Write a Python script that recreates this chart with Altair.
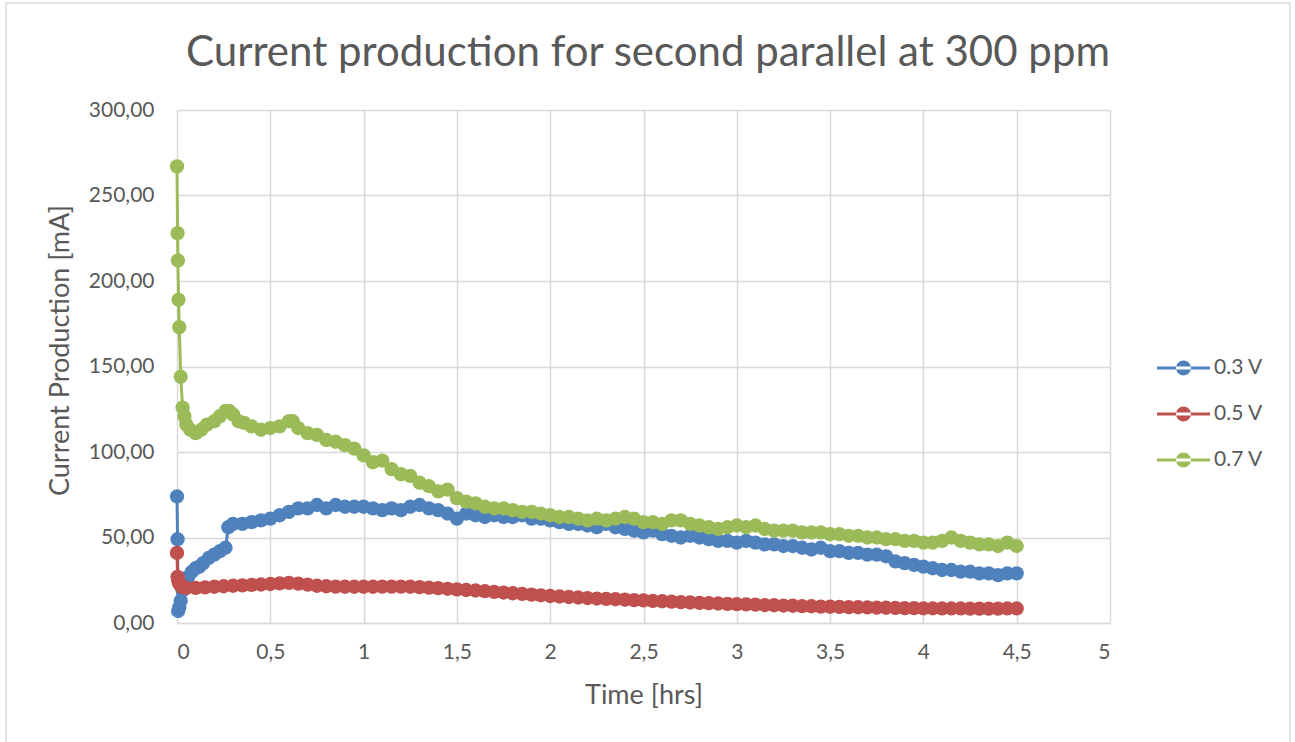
import altair as alt
import pandas as pd

series_names = ["0.3 V", "0.5 V", "0.7 V"]
series_colors = ["#4f81bd", "#c0504d", "#9bbb59"]
chart_title = "Current production for second parallel at 300 ppm"

blue_t = [0, 0.003, 0.006, 0.012, 0.02, 0.03, 0.045, 0.06, 0.08, 0.1, 0.12, 0.14, 0.17, 0.2, 0.23, 0.26,
          0.275, 0.3, 0.35, 0.4, 0.45, 0.5, 0.55, 0.6, 0.65, 0.7, 0.75, 0.8, 0.85, 0.9, 0.95, 1.0,
          1.05, 1.1, 1.15, 1.2, 1.25, 1.3, 1.35, 1.4, 1.45, 1.5, 1.55, 1.6, 1.65, 1.7, 1.75, 1.8,
          1.85, 1.9, 1.95, 2.0, 2.05, 2.1, 2.15, 2.2, 2.25, 2.3, 2.35, 2.4, 2.45, 2.5, 2.55, 2.6,
          2.65, 2.7, 2.75, 2.8, 2.85, 2.9, 2.95, 3.0, 3.05, 3.1, 3.15, 3.2, 3.25, 3.3, 3.35, 3.4,
          3.45, 3.5, 3.55, 3.6, 3.65, 3.7, 3.75, 3.8, 3.85, 3.9, 3.95, 4.0, 4.05, 4.1, 4.15, 4.2,
          4.25, 4.3, 4.35, 4.4, 4.45, 4.5]
blue_v = [74, 49, 7, 9, 13, 19, 24, 27, 30, 32, 33, 35, 38, 40, 42, 44,
          56, 58, 58, 59, 60, 61, 63, 65, 67, 67, 69, 67, 69, 68, 68, 68,
          67, 66, 67, 66, 68, 69, 67, 66, 64, 61, 64, 63, 62, 63, 62, 62,
          63, 61, 61, 60, 59, 58, 58, 57, 56, 58, 56, 55, 54, 53, 54, 52,
          51, 50, 51, 50, 49, 48, 48, 47, 48, 47, 46, 46, 45, 45, 44, 43,
          44, 42, 42, 41, 41, 40, 40, 39, 36, 35, 34, 33, 32, 31, 31, 30,
          30, 29, 29, 28, 29, 29]

red_t = [0, 0.003, 0.006, 0.012, 0.02, 0.03, 0.05, 0.1, 0.15, 0.2, 0.25, 0.3, 0.35, 0.4, 0.45, 0.5,
         0.55, 0.6, 0.65, 0.7, 0.75, 0.8, 0.85, 0.9, 0.95, 1.0, 1.05, 1.1, 1.15, 1.2, 1.25, 1.3,
         1.35, 1.4, 1.45, 1.5, 1.55, 1.6, 1.65, 1.7, 1.75, 1.8, 1.85, 1.9, 1.95, 2.0, 2.05, 2.1,
         2.15, 2.2, 2.25, 2.3, 2.35, 2.4, 2.45, 2.5, 2.55, 2.6, 2.65, 2.7, 2.75, 2.8, 2.85, 2.9,
         2.95, 3.0, 3.05, 3.1, 3.15, 3.2, 3.25, 3.3, 3.35, 3.4, 3.45, 3.5, 3.55, 3.6, 3.65, 3.7,
         3.75, 3.8, 3.85, 3.9, 3.95, 4.0, 4.05, 4.1, 4.15, 4.2, 4.25, 4.3, 4.35, 4.4, 4.45, 4.5]
red_v = [41, 27, 25, 23, 22, 21, 20.5, 20.5, 20.8, 21.2, 21.5, 21.8, 22, 22.3, 22.5, 22.8,
         23.2, 23.5, 23, 22.4, 21.8, 21.5, 21.3, 21.2, 21.2, 21.2, 21.2, 21.3, 21.3, 21.3, 21.2, 21,
         20.7, 20.4, 20, 19.7, 19.3, 19, 18.6, 18.2, 17.8, 17.4, 17, 16.6, 16.2, 15.8, 15.5, 15.2,
         14.9, 14.6, 14.3, 14.1, 13.9, 13.7, 13.4, 13.2, 12.9, 12.7, 12.5, 12.2, 12, 11.8, 11.6, 11.4,
         11.2, 11, 10.9, 10.7, 10.5, 10.4, 10.2, 10.1, 9.9, 9.8, 9.6, 9.5, 9.4, 9.3, 9.2, 9.1,
         9, 8.9, 8.8, 8.7, 8.7, 8.6, 8.6, 8.5, 8.5, 8.5, 8.4, 8.4, 8.4, 8.4, 8.5, 8.5]

green_t = [0, 0.003, 0.005, 0.008, 0.012, 0.02, 0.03, 0.04, 0.05, 0.07, 0.1, 0.13, 0.16, 0.2, 0.23, 0.26,
           0.28, 0.3, 0.33, 0.36, 0.4, 0.45, 0.5, 0.55, 0.6, 0.62, 0.65, 0.7, 0.75, 0.8, 0.85, 0.9,
           0.95, 1.0, 1.05, 1.1, 1.15, 1.2, 1.25, 1.3, 1.35, 1.4, 1.45, 1.5, 1.55, 1.6, 1.65, 1.7,
           1.75, 1.8, 1.85, 1.9, 1.95, 2.0, 2.05, 2.1, 2.15, 2.2, 2.25, 2.3, 2.35, 2.4, 2.45, 2.5,
           2.55, 2.6, 2.65, 2.7, 2.75, 2.8, 2.85, 2.9, 2.95, 3.0, 3.05, 3.1, 3.15, 3.2, 3.25, 3.3,
           3.35, 3.4, 3.45, 3.5, 3.55, 3.6, 3.65, 3.7, 3.75, 3.8, 3.85, 3.9, 3.95, 4.0, 4.05, 4.1,
           4.15, 4.2, 4.25, 4.3, 4.35, 4.4, 4.45, 4.5]
green_v = [267, 228, 212, 189, 173, 144, 126, 121, 116, 113, 111, 113, 116, 118, 121, 124,
           124, 122, 118, 117, 115, 113, 114, 115, 118, 118, 114, 111, 110, 107, 106, 104,
           102, 98, 94, 95, 90, 87, 86, 82, 80, 77, 78, 73, 71, 70, 68, 67,
           67, 66, 65, 65, 64, 63, 62, 62, 61, 60, 61, 60, 61, 62, 61, 59,
           59, 58, 60, 60, 58, 57, 56, 55, 56, 57, 56, 57, 55, 54, 54, 54,
           53, 53, 53, 52, 52, 51, 51, 50, 50, 49, 49, 48, 48, 47, 47, 48,
           50, 48, 47, 46, 46, 45, 47, 45]

rows = []
for name, ts, vs in zip(series_names, [blue_t, red_t, green_t], [blue_v, red_v, green_v]):
    for t, v in zip(ts, vs):
        rows.append({"series": name, "t": t, "v": v})
df = pd.DataFrame(rows)

FONT = "Lato"
TXT = "#595959"

# legend symbol: short line with a dot in the middle
sym = ("M-1,-0.057L1,-0.057L1,0.057L-1,0.057Z"
       "M-0.28,0A0.28,0.28,0,1,0,0.28,0A0.28,0.28,0,1,0,-0.28,0Z")

x_enc = alt.X("t:Q", scale=alt.Scale(domain=[0, 5], nice=False),
              axis=alt.Axis(values=[0, 0.5, 1, 1.5, 2, 2.5, 3, 3.5, 4, 4.5, 5],
                            labelExpr="replace(format(datum.value, '~g'), '.', ',')",
                            title="Time [hrs]", titlePadding=20))
y_enc = alt.Y("v:Q", scale=alt.Scale(domain=[0, 300], nice=False),
              axis=alt.Axis(values=[0, 50, 100, 150, 200, 250, 300],
                            labelExpr="replace(format(datum.value, '.2f'), '.', ',')",
                            title="Current Production [mA]", titlePadding=14, titleY=240))
c_enc = alt.Color("series:N", scale=alt.Scale(domain=series_names, range=series_colors),
                  legend=alt.Legend(title=None, orient="none", legendX=980, legendY=248,
                                    symbolType=sym, symbolSize=2809, symbolStrokeWidth=0,
                                    clipHeight=20, rowPadding=25, labelOffset=4,
                                    labelFontSize=21, labelColor=TXT, labelFont=FONT, padding=0))

base = alt.Chart(df).encode(x=x_enc, y=y_enc, color=c_enc)
layers = []
for name in series_names:
    sub = base.transform_filter(alt.datum.series == name)
    layers.append(sub.mark_line(strokeWidth=3))
    layers.append(sub.mark_point(filled=True, size=205, opacity=1))

one = pd.DataFrame({"label": [chart_title]})
frame = alt.Chart(one).mark_rect(
    fill="transparent", stroke="#d9d9d9", strokeWidth=1.5).encode(
    x=alt.value(-171), x2=alt.value(1113), y=alt.value(-107), y2=alt.value(650))
title_txt = alt.Chart(one).mark_text(
    font=FONT, fontSize=42, color=TXT, align="center", baseline="alphabetic").encode(
    text="label:N", x=alt.value(471), y=alt.value(-44))

chart = alt.layer(frame, title_txt, *layers).properties(
    width=933, height=513,
    autosize=alt.AutoSizeParams(type="none"),
    padding={"left": 177, "top": 110, "right": 185, "bottom": 119},
    background="white",
).configure_view(stroke=None).configure_axis(
    gridColor="#d9d9d9", gridWidth=1.5, domainColor="#d9d9d9", domainWidth=1.5,
    ticks=False, labelFont=FONT, labelFontSize=21, labelColor=TXT,
    titleFont=FONT, titleFontSize=27, titleColor=TXT, titleFontWeight="normal",
).configure_axisX(labelPadding=18).configure_axisY(labelPadding=23, domain=False)

chart.save("out.html", embed_options={"renderer": "svg", "actions": False})
